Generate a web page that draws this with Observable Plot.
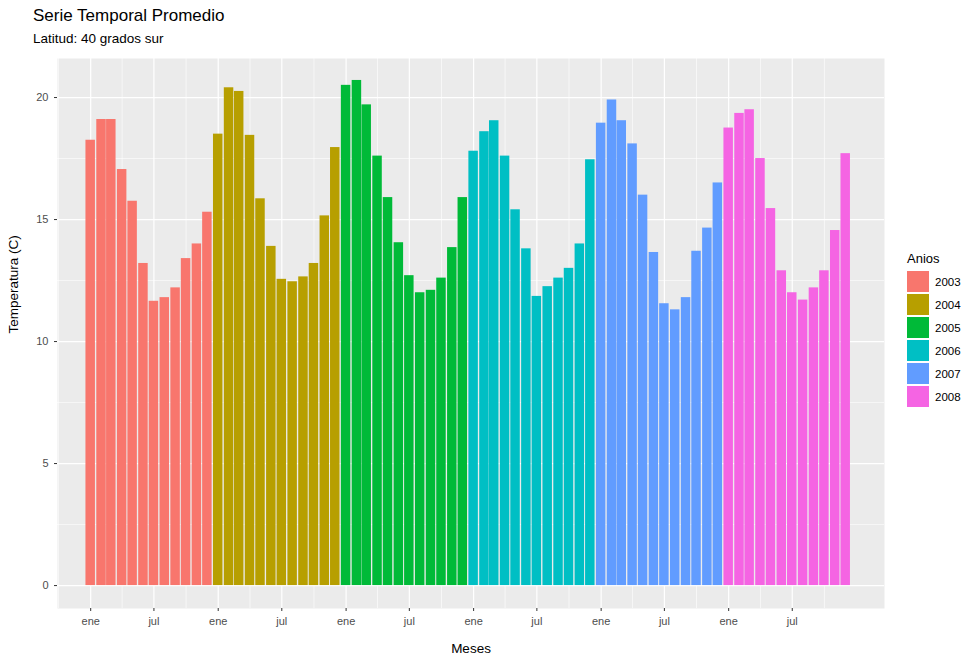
<!DOCTYPE html>
<html><head><meta charset="utf-8">
<script src="https://cdn.jsdelivr.net/npm/d3@7"></script>
<script src="https://cdn.jsdelivr.net/npm/@observablehq/plot@0.6"></script>
<style>
body{margin:0;background:#fff;font-family:"Liberation Sans",Arial,sans-serif;}
#wrap{position:relative;width:980px;height:655px;}
#title{position:absolute;left:33px;top:6px;font-size:17px;}
#sub{position:absolute;left:33px;top:31px;font-size:13.5px;}
#chart{position:absolute;left:0;top:58px;}
#legend{position:absolute;left:907px;top:251px;font-size:13px;}
.key{display:flex;align-items:center;height:23px;font-size:11.5px;}
.sw{width:22px;height:21px;margin-right:6px;}
</style></head>
<body><div id="wrap">
<div id="title">Serie Temporal Promedio</div>
<div id="sub">Latitud: 40 grados sur</div>
<div id="chart"></div>
<div id="legend"><div style="margin-bottom:4px">Anios</div></div>
</div>
<script>
const years = [2003, 2004, 2005, 2006, 2007, 2008]
const colors = ["#F8766D", "#B79F00", "#00BA38", "#00BFC4", "#619CFF", "#F564E3"]
const temps = [
  [18.25, 19.1, 19.1, 17.05, 15.75, 13.2, 11.65, 11.8, 12.2, 13.4, 14.0, 15.3],
  [18.5, 20.4, 20.25, 18.45, 15.85, 13.9, 12.55, 12.45, 12.65, 13.2, 15.15, 17.95],
  [20.5, 20.7, 19.7, 17.6, 15.9, 14.05, 12.7, 12.0, 12.1, 12.6, 13.85, 15.9],
  [17.8, 18.6, 19.05, 17.6, 15.4, 13.8, 11.85, 12.25, 12.6, 13.0, 14.0, 17.45],
  [18.95, 19.9, 19.05, 18.1, 16.0, 13.65, 11.55, 11.3, 11.8, 13.7, 14.65, 16.5],
  [18.75, 19.35, 19.5, 17.5, 15.45, 12.9, 12.0, 11.7, 12.2, 12.9, 14.55, 17.7]
]
const yTicks = [0, 5, 10, 15, 20]
const yMinor = [2.5, 7.5, 12.5, 17.5]

let data = []
years.forEach((yr, i) => temps[i].forEach((t, m) => {
  const date = new Date(yr, m, 1)
  data.push({date, year: String(yr), temp: t,
    x1: d3.timeDay.offset(date, -15), x2: d3.timeDay.offset(date, 15)})
}))

const xTicks = d3.timeMonth.range(new Date(2003, 0, 1), new Date(2008, 7, 1), 6)
const xMinor = d3.timeMonth.range(new Date(2002, 9, 1), new Date(2009, 1, 1), 6)

const chart = Plot.plot({
  width: 980, height: 597,
  marginTop: 0, marginLeft: 57, marginRight: 96, marginBottom: 47,
  style: {fontFamily: "Liberation Sans, Arial, sans-serif", fontSize: "11px"},
  x: {type: "time", domain: [new Date(2002, 8, 28), new Date(2009, 2, 22)]},
  y: {domain: [-0.94, 21.6]},
  color: {domain: years.map(String), range: colors},
  marks: [
    Plot.frame({fill: "#EBEBEB", stroke: null}),
    Plot.ruleY(yMinor, {stroke: "white", strokeWidth: 0.6}),
    Plot.ruleX(xMinor, {stroke: "white", strokeWidth: 0.6}),
    Plot.ruleY(yTicks, {stroke: "white", strokeWidth: 1.2}),
    Plot.ruleX(xTicks, {stroke: "white", strokeWidth: 1.2}),
    Plot.rectY(data, {x1: "x1", x2: "x2", y1: 0, y2: "temp", fill: "year", insetLeft: 0.5, insetRight: 0.5}),
    Plot.axisX({ticks: xTicks, tickFormat: d => d.getMonth() === 0 ? "ene" : "jul",
      tickSize: 3, color: "#4D4D4D", stroke: "#333", fontSize: 11, label: null}),
    Plot.axisY({ticks: yTicks, tickSize: 3, color: "#4D4D4D", stroke: "#333", fontSize: 11, label: null}),
    Plot.text(["Meses"], {frameAnchor: "bottom", dy: 44, fontSize: 13.5, fill: "black"}),
    Plot.text(["Temperatura (C)"], {frameAnchor: "left", dx: -44, rotate: -90, fontSize: 13.5, fill: "black"})
  ]
})
document.getElementById("chart").append(chart)

const leg = document.getElementById("legend")
years.forEach((yr, i) => {
  const k = document.createElement("div")
  k.className = "key"
  k.innerHTML = `<div class="sw" style="background:${colors[i]}"></div>${yr}`
  leg.append(k)
})
</script>
</body></html>
